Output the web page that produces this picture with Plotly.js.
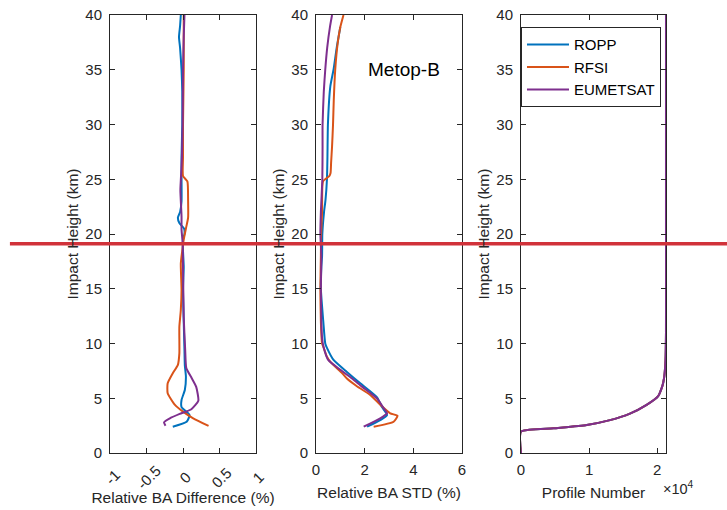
<!DOCTYPE html>
<html>
<head>
<meta charset="utf-8">
<script src="https://cdn.plot.ly/plotly-3.0.1.min.js"></script>
<style>html,body{margin:0;padding:0;background:#fff;}</style>
</head>
<body>
<div id="chart" style="width:727px;height:510px;"></div>
<script>
// ---- Data ----
// Panel 1: relative bending-angle difference (%) vs impact height (km)
const diffH_ropp = [2.4, 2.85, 3.47, 4.2, 4.84, 5.75, 6.97, 8.0, 9.4, 12, 15, 17, 18.5, 19.5, 20, 20.5, 21.0, 21.5, 22, 23, 25, 27, 30, 33, 35, 37, 38, 39, 40];
const diff_ropp  = [-0.14, 0.05, 0.09, -0.02, -0.02, 0.025, 0.04, 0.025, 0.02, 0.01, 0.0, 0.01, 0.0, 0.0, 0.02, 0.015, -0.05, -0.07, -0.04, -0.02, -0.02, -0.02, -0.01, -0.01, -0.02, -0.04, -0.055, -0.04, -0.03];

const diffH_rfsi = [2.47, 3.17, 3.78, 4.39, 5.46, 6.37, 7.29, 8.05, 9.1, 11.5, 13.05, 14.9, 17.3, 18.5, 19.5, 20.5, 21.5, 23.0, 24.8, 25.3, 27, 30, 35, 40];
const diff_rfsi  = [0.35, 0.14, 0.0, -0.11, -0.21, -0.21, -0.14, -0.07, -0.05, -0.05, -0.03, -0.02, -0.03, -0.01, 0.01, 0.04, 0.07, 0.07, 0.06, 0.0, 0.0, 0.0, 0.01, 0.01];

const diffH_eum = [2.5, 2.8, 3.17, 3.57, 4.0, 4.77, 6.06, 6.83, 7.75, 9.4, 12.4, 17, 19.2, 20.4, 21.6, 24, 24.9, 27, 30, 35, 38, 40];
const diff_eum  = [-0.24, -0.26, -0.18, -0.045, 0.115, 0.21, 0.18, 0.12, 0.045, 0.03, 0.01, 0.0, -0.005, -0.02, -0.02, -0.036, -0.03, -0.015, -0.005, 0.0, 0.01, 0.02];

// Panel 2: relative bending-angle STD (%)
const stdH_ropp = [2.4, 3.0, 3.47, 4.2, 5.1, 6.36, 7.4, 8.5, 9.6, 10.0, 12, 15, 17, 18, 20, 22, 23.1, 25, 27, 30, 33.5, 35, 37, 38.9];
const std_ropp  = [2.1, 2.64, 2.92, 2.71, 2.5, 1.82, 1.27, 0.72, 0.45, 0.38, 0.3, 0.2, 0.22, 0.25, 0.26, 0.33, 0.39, 0.45, 0.47, 0.49, 0.59, 0.72, 0.85, 1.0];

const stdH_rfsi = [2.4, 2.85, 3.4, 3.62, 4.4, 5.3, 6.1, 6.8, 7.3, 8.3, 8.8, 9.7, 10.0, 12, 15, 18, 20, 22, 24.8, 25.3, 25.6, 26.5, 28, 30, 32.2, 35, 37.4, 38.9, 40];
const std_rfsi  = [2.37, 3.19, 3.35, 3.05, 2.64, 2.23, 1.68, 1.27, 1.07, 0.6, 0.45, 0.3, 0.25, 0.2, 0.18, 0.2, 0.21, 0.25, 0.29, 0.55, 0.6, 0.62, 0.66, 0.70, 0.73, 0.79, 0.89, 1.0, 1.13];

const stdH_eum = [2.4, 3.17, 3.63, 4.1, 5.0, 6.06, 6.8, 7.6, 8.5, 9.7, 10.5, 12, 15, 18, 20, 22, 25, 28, 30, 33, 35, 37, 39, 40];
const std_eum  = [1.96, 2.64, 2.92, 2.78, 2.5, 1.89, 1.48, 1.0, 0.5, 0.31, 0.25, 0.22, 0.2, 0.22, 0.18, 0.2, 0.26, 0.27, 0.27, 0.32, 0.38, 0.46, 0.58, 0.66];

// Panel 3: number of profiles reaching each impact height
const profH      = [0, 1.95, 2.25, 2.56, 3.0, 3.6, 4.4, 5.2, 6.0, 6.4, 7.0, 8.5, 11, 20, 40];
const prof_ropp  = [0, 0, 4770, 9660, 13070, 16000, 18450, 20150, 20700, 20880, 21050, 21230, 21300, 21300, 21300];
const prof_rfsi  = [0, 0, 4770, 9660, 13070, 16000, 18450, 20150, 20700, 20880, 21050, 21230, 21300, 21300, 21300];
const prof_eum   = [0, 0, 4770, 9660, 13070, 16000, 18450, 20150, 20700, 20880, 21050, 21230, 21300, 21300, 21300];

const seriesNames = ['ROPP', 'RFSI', 'EUMETSAT'];
const seriesColors = ['#0072BD', '#D95319', '#7E2F8E'];

const diffTicks = [-1, -0.5, 0, 0.5, 1];
const diffTickText = ['-1', '-0.5', '0', '0.5', '1'];
const stdTicks = [0, 2, 4, 6];
const profTicks = [0, 10000, 20000];
const profTickText = ['0', '1', '2'];
const heightTicks = [0, 5, 10, 15, 20, 25, 30, 35, 40];
const markerHeight = 19.1;   // red horizontal marker line (km)

// ---- Build traces ----
const FONT = 'Liberation Sans, Arial, Helvetica, sans-serif';
const TXT = '#262626';
const TICK_SIZE = 15;
const TITLE_SIZE = 15.5;
const panels = [
  {x: [diff_ropp, diff_rfsi, diff_eum], y: [diffH_ropp, diffH_rfsi, diffH_eum], xa: 'x', ya: 'y'},
  {x: [std_ropp, std_rfsi, std_eum], y: [stdH_ropp, stdH_rfsi, stdH_eum], xa: 'x2', ya: 'y2'},
  {x: [prof_ropp, prof_rfsi, prof_eum], y: [profH, profH, profH], xa: 'x3', ya: 'y3'}
];
const traces = [];
panels.forEach((p, pi) => {
  for (let s = 0; s < 3; s++) {
    traces.push({
      type: 'scatter', mode: 'lines',
      x: p.x[s], y: p.y[s], xaxis: p.xa, yaxis: p.ya,
      name: seriesNames[s], legendgroup: seriesNames[s],
      showlegend: pi === 2,
      line: {color: seriesColors[s], width: 2, shape: 'spline', smoothing: 0.5},
      hoverinfo: 'x+y'
    });
  }
});

const axBase = {
  showline: true, linecolor: TXT, linewidth: 1, mirror: 'ticks',
  ticks: 'inside', ticklen: 5, tickcolor: TXT, tickwidth: 1,
  showgrid: false, zeroline: false,
  tickfont: {family: FONT, size: TICK_SIZE, color: TXT}
};
const yBase = Object.assign({}, axBase, {
  range: [0, 40], tickmode: 'array', tickvals: heightTicks, ticklabelstandoff: 4,
  title: {text: 'Impact Height (km)', font: {family: FONT, size: TITLE_SIZE, color: TXT}, standoff: 2}
});

const annotations = diffTicks.map((v, i) => ({
  x: v, xref: 'x', y: -0.056, yref: 'paper', text: diffTickText[i],
  textangle: -45, showarrow: false, xanchor: 'center', yanchor: 'middle',
  xshift: 2, font: {family: FONT, size: TICK_SIZE, color: TXT}
}));
annotations.push({
  x: 3.6, xref: 'x2', y: 35, yref: 'y2', text: 'Metop-B', showarrow: false,
  font: {family: FONT, size: 19, color: '#000'}
});
annotations.push({
  x: 1.0, xref: 'paper', y: -0.08, yref: 'paper', text: '×10<sup>4</sup>', showarrow: false,
  xanchor: 'left', yanchor: 'middle', xshift: -5,
  font: {family: FONT, size: 14.5, color: TXT}
});

const layout = {
  width: 727, height: 510,
  margin: {l: 110, r: 61, t: 15, b: 57},
  paper_bgcolor: '#fff', plot_bgcolor: '#fff',
  font: {family: FONT, color: TXT},
  showlegend: true,
  legend: {
    x: 0.7392, xanchor: 'left', y: 0.972, yanchor: 'top',
    bgcolor: '#fff', bordercolor: TXT, borderwidth: 1,
    font: {family: FONT, size: 15, color: '#000'},
    itemwidth: 42, tracegroupgap: 0
  },
  xaxis: Object.assign({}, axBase, {
    domain: [0, 0.2626], range: [-1, 1], tickmode: 'array', tickvals: diffTicks,
    showticklabels: false,
    title: {text: 'Relative BA Difference (%)', font: {family: FONT, size: TITLE_SIZE, color: TXT}, standoff: 39}
  }),
  xaxis2: Object.assign({}, axBase, {
    domain: [0.3705, 0.6331], range: [0, 6], tickmode: 'array', tickvals: stdTicks, ticklabelstandoff: 3,
    title: {text: 'Relative BA STD (%)', font: {family: FONT, size: TITLE_SIZE, color: TXT}, standoff: 10}
  }),
  xaxis3: Object.assign({}, axBase, {
    domain: [0.7392, 1], range: [0, 21300], tickmode: 'array', tickvals: profTicks, ticktext: profTickText, ticklabelstandoff: 3,
    title: {text: 'Profile Number', font: {family: FONT, size: TITLE_SIZE, color: TXT}, standoff: 10}
  }),
  yaxis: Object.assign({}, yBase, {anchor: 'x'}),
  yaxis2: Object.assign({}, yBase, {anchor: 'x2'}),
  yaxis3: Object.assign({}, yBase, {anchor: 'x3'}),
  annotations: annotations,
  shapes: [{
    type: 'line', xref: 'paper', yref: 'paper',
    x0: -0.18, x1: 1.12, y0: markerHeight / 40, y1: markerHeight / 40,
    line: {color: '#D1323A', width: 3.5}, layer: 'above'
  }]
};

Plotly.newPlot('chart', traces, layout, {displayModeBar: false, staticPlot: true});
</script>
</body>
</html>
